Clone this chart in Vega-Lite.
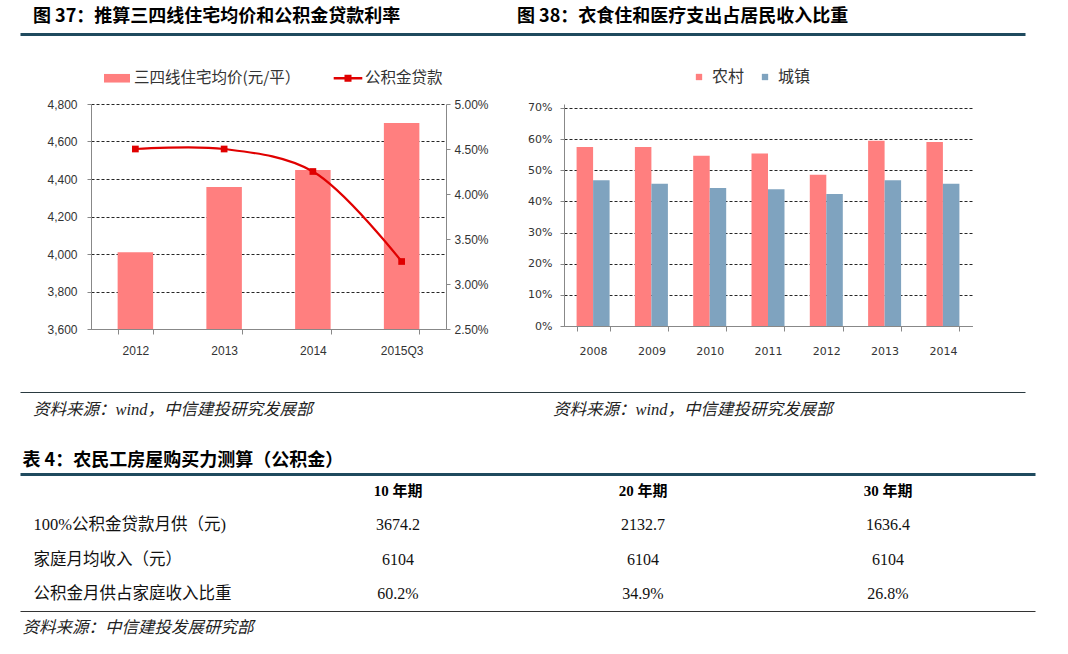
{
  "$schema": "https://vega.github.io/schema/vega-lite/v6.json",
  "background": "white",
  "padding": {"left": 20, "top": 0, "right": 10, "bottom": 10},
  "spacing": 0,
  "datasets": {
    "heads": [
      {"t": "图 37：推算三四线住宅均价和公积金贷款利率"},
      {"t": "图 38：衣食住和医疗支出占居民收入比重"}
    ],
    "sources": [
      {"panel": "图37", "t": "资料来源：wind，中信建投研究发展部"},
      {"panel": "图38", "t": "资料来源：wind，中信建投研究发展部"}
    ],
    "c37": [
      {"year": "2012", "price": 4010, "rate": 0.045},
      {"year": "2013", "price": 4357, "rate": 0.045},
      {"year": "2014", "price": 4448, "rate": 0.0425},
      {"year": "2015Q3", "price": 4699, "rate": 0.0325}
    ],
    "c38": [
      {"year": "2008", "农村": 0.575, "城镇": 0.468},
      {"year": "2009", "农村": 0.575, "城镇": 0.457},
      {"year": "2010", "农村": 0.547, "城镇": 0.443},
      {"year": "2011", "农村": 0.554, "城镇": 0.439},
      {"year": "2012", "农村": 0.486, "城镇": 0.424},
      {"year": "2013", "农村": 0.595, "城镇": 0.468},
      {"year": "2014", "农村": 0.591, "城镇": 0.457}
    ],
    "table": [
      {"row": "表头", "col": "10 年期", "text": "10 年期"},
      {"row": "表头", "col": "20 年期", "text": "20 年期"},
      {"row": "表头", "col": "30 年期", "text": "30 年期"},
      {"row": "100%公积金贷款月供（元)", "col": "项目", "text": "100%公积金贷款月供（元)"},
      {"row": "100%公积金贷款月供（元)", "col": "10 年期", "text": "3674.2"},
      {"row": "100%公积金贷款月供（元)", "col": "20 年期", "text": "2132.7"},
      {"row": "100%公积金贷款月供（元)", "col": "30 年期", "text": "1636.4"},
      {"row": "家庭月均收入（元）", "col": "项目", "text": "家庭月均收入（元）"},
      {"row": "家庭月均收入（元）", "col": "10 年期", "text": "6104"},
      {"row": "家庭月均收入（元）", "col": "20 年期", "text": "6104"},
      {"row": "家庭月均收入（元）", "col": "30 年期", "text": "6104"},
      {"row": "公积金月供占家庭收入比重", "col": "项目", "text": "公积金月供占家庭收入比重"},
      {"row": "公积金月供占家庭收入比重", "col": "10 年期", "text": "60.2%"},
      {"row": "公积金月供占家庭收入比重", "col": "20 年期", "text": "34.9%"},
      {"row": "公积金月供占家庭收入比重", "col": "30 年期", "text": "26.8%"}
    ]
  },
  "vconcat": [
    {
      "width": 1005,
      "height": 34,
      "data": {"name": "heads"},
      "mark": {"type": "text", "align": "left", "baseline": "middle", "dy": -0.5, "fontSize": 18, "fontWeight": "bold", "font": "Noto Sans CJK SC", "color": "#000"},
      "encoding": {
        "x": {
          "field": "t", "type": "nominal", "sort": null, "bandPosition": 0,
          "scale": {"type": "band", "paddingInner": 0, "paddingOuter": 0.0382, "align": 0.351},
          "axis": {"orient": "bottom", "labels": false, "ticks": false, "grid": false, "domain": true, "domainColor": "#1f4a5e", "domainWidth": 3, "title": null}
        },
        "text": {"field": "t"}
      }
    },
    {"width": 1, "height": 30.5, "data": {"values": []}, "mark": "rect"},
    {
      "bounds": "flush",
      "spacing": 0,
      "resolve": {"scale": {"color": "independent"}, "legend": {"color": "independent"}},
      "hconcat": [
        {"width": 71, "height": 1, "data": {"values": []}, "mark": "rect"},
        {
          "width": 355,
          "height": 225,
          "data": {"name": "c37"},
          "encoding": {
            "x": {
              "field": "year", "type": "nominal", "sort": null,
              "scale": {"paddingInner": 0.6, "paddingOuter": 0.3},
              "axis": {"title": null, "labelAngle": 0, "tickBand": "extent", "tickSize": 5, "labelPadding": 11, "labelFontSize": 12, "labelFont": "Liberation Sans", "labelColor": "#333", "domainColor": "#888", "tickColor": "#888"}
            }
          },
          "layer": [
            {
              "mark": {"type": "bar", "clip": true},
              "encoding": {
                "y": {
                  "field": "price", "type": "quantitative",
                  "scale": {"domain": [3600, 4800], "nice": false, "zero": false},
                  "axis": {"title": null, "values": [3600, 3800, 4000, 4200, 4400, 4600, 4800], "format": ",.0f", "tickSize": 4, "labelPadding": 10, "labelFontSize": 12, "labelFont": "Liberation Sans", "labelColor": "#333", "grid": true, "gridColor": "#000", "gridDash": [3, 2], "gridOpacity": 0.85, "domainColor": "#888", "tickColor": "#888"}
                },
                "color": {
                  "datum": "三四线住宅均价(元/平）", "type": "nominal",
                  "scale": {"domain": ["三四线住宅均价(元/平）", "公积金贷款"], "range": ["#FF7F7F", "#E00000"]},
                  "legend": {
                    "orient": "none", "legendX": 13, "legendY": -39, "direction": "horizontal", "title": null,
                    "symbolSize": 676, "labelFontSize": 15.5, "labelFont": "Noto Sans CJK SC", "labelColor": "#333", "labelOffset": 4, "labelLimit": 400, "columnPadding": 32,
                    "encode": {
                      "symbols": {
                        "update": {
                          "shape": {"signal": "datum.value === '公积金贷款' ? 'M-1.1,-0.1H-0.27V-0.27H0.27V-0.1H1.1V0.1H0.27V0.27H-0.27V0.1H-1.1Z' : 'M-1,-0.33H1V0.33H-1Z'"},
                          "fill": {"signal": "datum.value === '公积金贷款' ? '#E00000' : '#FF7F7F'"},
                          "stroke": {"value": "transparent"},
                          "strokeWidth": {"value": 0},
                          "opacity": {"value": 1}
                        }
                      }
                    }
                  }
                }
              }
            },
            {
              "mark": {"type": "line", "interpolate": "catmull-rom", "strokeWidth": 2.2, "point": {"shape": "square", "size": 45, "filled": true, "opacity": 1}},
              "encoding": {
                "y": {
                  "field": "rate", "type": "quantitative",
                  "scale": {"domain": [0.025, 0.05], "nice": false, "zero": false},
                  "axis": {"title": null, "orient": "right", "values": [0.025, 0.03, 0.035, 0.04, 0.045, 0.05], "format": ".2%", "tickSize": 4, "labelPadding": 4, "labelFontSize": 12, "labelFont": "Liberation Sans", "labelColor": "#333", "grid": false, "domainColor": "#888", "tickColor": "#888"}
                },
                "color": {"datum": "公积金贷款", "type": "nominal"}
              }
            }
          ],
          "resolve": {"scale": {"y": "independent"}}
        },
        {"width": 118, "height": 1, "data": {"values": []}, "mark": "rect"},
        {
          "width": 408,
          "height": 222,
          "data": {"name": "c38"},
          "transform": [{"fold": ["农村", "城镇"], "as": ["s", "v"]}],
          "mark": {"type": "bar"},
          "encoding": {
            "x": {
              "field": "year", "type": "nominal", "sort": null,
              "scale": {"paddingInner": 0.434, "paddingOuter": 0.216},
              "axis": {"title": null, "labelAngle": 0, "tickBand": "extent", "tickSize": 5, "labelPadding": 14, "labelFontSize": 11, "labelFont": "DejaVu Sans", "labelColor": "#333", "domainColor": "#888", "tickColor": "#888"}
            },
            "xOffset": {"field": "s", "type": "nominal", "sort": ["农村", "城镇"]},
            "y": {
              "field": "v", "type": "quantitative",
              "scale": {"domain": [0, 0.7128], "nice": false},
              "axis": {"title": null, "values": [0, 0.1, 0.2, 0.3, 0.4, 0.5, 0.6, 0.7], "format": ".0%", "tickSize": 4, "labelPadding": 8, "labelFontSize": 11, "labelFont": "DejaVu Sans", "labelColor": "#333", "grid": true, "gridColor": "#000", "gridDash": [3, 2], "gridOpacity": 0.85, "domainColor": "#888", "tickColor": "#888"}
            },
            "color": {
              "field": "s", "type": "nominal", "sort": ["农村", "城镇"],
              "scale": {"domain": ["农村", "城镇"], "range": ["#FF7F7F", "#7FA3BF"]},
              "legend": {"orient": "none", "legendX": 127, "legendY": -35, "direction": "horizontal", "title": null, "symbolType": "square", "symbolSize": 40, "symbolStrokeWidth": 0, "labelFontSize": 16, "labelFont": "Noto Sans CJK SC", "labelColor": "#333", "labelOffset": 5, "columnPadding": 12}
            }
          }
        }
      ]
    },
    {"width": 1, "height": 35.5, "data": {"values": []}, "mark": "rect"},
    {
      "width": 1005,
      "height": 28,
      "data": {"name": "sources"},
      "mark": {"type": "text", "align": "left", "baseline": "middle", "dy": 4, "fontSize": 16.5, "fontStyle": "italic", "font": "Liberation Serif, Noto Sans CJK SC", "color": "#222"},
      "encoding": {
        "x": {
          "field": "panel", "type": "nominal", "sort": null, "bandPosition": 0,
          "scale": {"type": "band", "paddingInner": 0.2, "paddingOuter": 0.0663, "align": 0.188},
          "axis": {"orient": "top", "labels": false, "ticks": false, "grid": false, "domain": true, "domainColor": "#2a3a40", "domainWidth": 1, "title": null}
        },
        "text": {"field": "t"}
      }
    },
    {"width": 1, "height": 30.5, "data": {"values": []}, "mark": "rect"},
    {
      "width": 1015,
      "height": 137,
      "data": {"name": "table"},
      "encoding": {
        "y": {"field": "row", "type": "nominal", "scale": {"type": "band", "domain": ["表头", "100%公积金贷款月供（元)", "家庭月均收入（元）", "公积金月供占家庭收入比重"], "paddingInner": 0, "paddingOuter": 0}, "axis": null},
        "text": {"field": "text"}
      },
      "layer": [
        {
          "transform": [{"filter": "datum.row === '表头'"}],
          "mark": {"type": "text", "align": "center", "baseline": "middle", "fontSize": 15, "fontWeight": "bold", "font": "Liberation Serif, Noto Sans CJK SC", "color": "#000"},
          "encoding": {
            "x": {
              "field": "col", "type": "nominal",
              "scale": {"type": "band", "domain": ["项目", "10 年期", "20 年期", "30 年期"], "paddingInner": 0, "paddingOuter": 0.0714, "align": 0.3},
              "axis": {"orient": "top", "labels": false, "ticks": false, "grid": false, "domain": true, "domainColor": "#1f4a5e", "domainWidth": 3, "title": "表 4：农民工房屋购买力测算（公积金）", "titleX": 2, "titleAlign": "left", "titleAnchor": "start", "titleFontSize": 18, "titleFontWeight": "bold", "titleFont": "Noto Sans CJK SC", "titleColor": "#000", "titlePadding": 5}
            }
          }
        },
        {
          "transform": [{"filter": "datum.col === '项目'"}],
          "mark": {"type": "text", "align": "left", "baseline": "middle", "dx": 3, "fontSize": 16.5, "font": "Liberation Serif, Noto Sans CJK SC", "color": "#111"},
          "encoding": {"x": {"field": "col", "type": "nominal", "bandPosition": 0, "axis": null}}
        },
        {
          "transform": [{"filter": "datum.row !== '表头' && datum.col !== '项目'"}],
          "mark": {"type": "text", "align": "center", "baseline": "middle", "fontSize": 16, "font": "Liberation Serif, Noto Sans CJK SC", "color": "#111"},
          "encoding": {
            "x": {
              "field": "col", "type": "nominal",
              "axis": {"orient": "bottom", "labels": false, "ticks": false, "grid": false, "domain": true, "domainColor": "#333", "domainWidth": 1, "title": "资料来源：中信建投发展研究部", "titleX": 2, "titleAlign": "left", "titleAnchor": "start", "titleFontSize": 16.5, "titleFontStyle": "italic", "titleFontWeight": "normal", "titleFont": "Liberation Serif, Noto Sans CJK SC", "titleColor": "#222", "titlePadding": 8}
            }
          }
        }
      ],
      "resolve": {"axis": {"x": "independent"}}
    }
  ],
  "config": {
    "view": {"stroke": null},
    "font": "Liberation Sans, Noto Sans CJK SC"
  }
}
